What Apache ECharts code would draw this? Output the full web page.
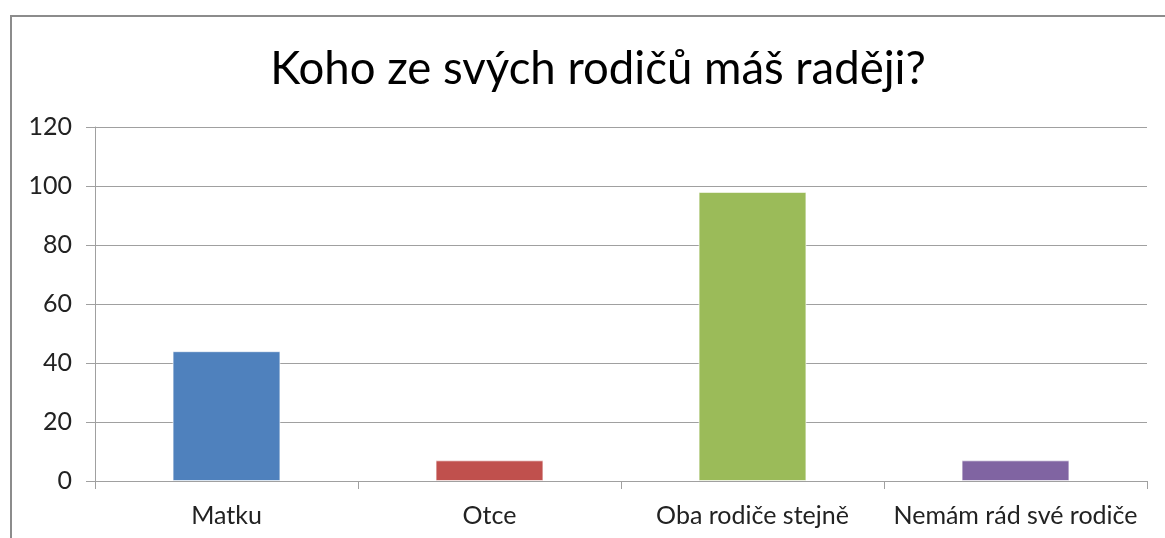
<!DOCTYPE html>
<html>
<head>
<meta charset="utf-8">
<script src="https://cdn.jsdelivr.net/npm/echarts@6/dist/echarts.min.js"></script>
<style>html,body{margin:0;padding:0;background:#fff;}#c{width:1165px;height:538px;}</style>
</head>
<body>
<div id="c"></div>
<script>
const titleText = 'Koho ze svých rodičů máš raději?';
const categories = ['Matku', 'Otce', 'Oba rodiče stejně', 'Nemám rád své rodiče'];
const values = [44, 7, 98, 7];
const colors = ['#4F81BD', '#C0504D', '#9BBB59', '#8064A2'];
const yTicks = [0, 20, 40, 60, 80, 100, 120];

const chart = echarts.init(document.getElementById('c'), null, {renderer: 'canvas'});
const font = 'Lato, "Open Sans", sans-serif';
chart.setOption({
  animation: false,
  graphic: [{
    type: 'rect', left: 10, top: 15, z: -1,
    shape: {x: 0, y: 0, width: 1200, height: 600},
    style: {fill: '#fff', stroke: '#8c8c8c', lineWidth: 2}
  }],
  title: {
    text: titleText, left: 593, top: 41, textAlign: 'center',
    textStyle: {fontFamily: font, fontWeight: 'normal', fontSize: 45.5, color: '#000'}
  },
  grid: {left: 95, right: 18, top: 127, bottom: 57, containLabel: false},
  xAxis: {
    type: 'category', data: categories,
    axisLine: {show: true, lineStyle: {color: '#a0a0a0', width: 1}},
    axisTick: {show: true, length: 8, alignWithLabel: false, lineStyle: {color: '#a0a0a0'}},
    axisLabel: {fontFamily: font, fontSize: 25, color: '#222', margin: 22, interval: 0}
  },
  yAxis: {
    type: 'value', min: yTicks[0], max: yTicks[yTicks.length - 1], interval: 20,
    axisLine: {show: true, lineStyle: {color: '#a0a0a0', width: 1}},
    axisTick: {show: true, length: 9, lineStyle: {color: '#a0a0a0'}},
    axisLabel: {fontFamily: font, fontSize: 25, color: '#222', margin: 23},
    splitLine: {show: true, lineStyle: {color: '#a0a0a0', width: 1}}
  },
  series: [{
    type: 'bar', barWidth: '41%',
    data: values.map((v, i) => ({value: v, itemStyle: {color: colors[i]}})),
    itemStyle: {borderColor: 'rgba(255,255,255,0.6)', borderWidth: 1}
  }]
});
</script>
</body>
</html>
